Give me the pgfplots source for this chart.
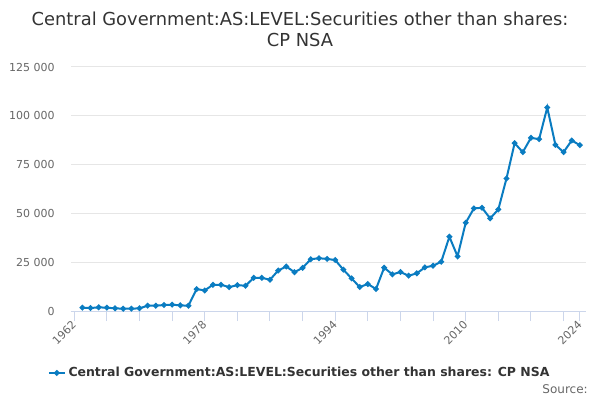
\documentclass[border=0pt]{standalone}
\usepackage{pgfplots}
\pgfplotsset{compat=1.18}
\usepackage{fontspec}
\setmainfont{DejaVu Sans}
\definecolor{linec}{HTML}{0A7CC1}
\definecolor{axc}{HTML}{CCD6EB}
\definecolor{gridc}{HTML}{E6E6E6}
\definecolor{txt}{HTML}{666666}
\definecolor{ttl}{HTML}{333333}
\begin{document}
\begin{tikzpicture}
\begin{axis}[
  scale only axis,
  width=386.25pt, height=183pt,
  xmin=1961.6, xmax=2024.75,
  ymin=0, ymax=125000,
  axis x line*=bottom,
  axis y line*=left,
  x axis line style={draw=axc, line width=0.75pt, -},
  y axis line style={draw=none},
  ymajorgrids,
  grid style={draw=gridc, line width=0.75pt},
  ytick={0,25000,50000,75000,100000,125000},
  scaled y ticks=false,
  /pgf/number format/fixed,
  /pgf/number format/precision=0,
  /pgf/number format/1000 sep={},
  /pgf/number format/assume math mode=true,
  yticklabel style={/pgf/number format/1000 sep={\ }, font=\fontsize{8.25}{9}\selectfont, text=txt, xshift=-1.2pt},
  xtick={1962,1978,1994,2010,2024},
  minor xtick={1966,1970,1974,1982,1986,1990,1998,2002,2006,2014,2018,2022},
  xticklabel style={font=\fontsize{8.25}{9}\selectfont, text=txt, rotate=45, anchor=east, inner sep=1pt, yshift=-1pt},
  tick align=outside,
  major tick length=7.5pt,
  minor tick length=7.5pt,
  xtick style={draw=axc, line width=0.75pt},
  minor x tick style={draw=axc, line width=0.75pt},
  ytick style={draw=none},
  clip=false,
  legend style={at={(rel axis cs:0.4447,-0.254)}, anchor=center, draw=none, fill=none,
    font=\bfseries\fontsize{9.35}{10}\selectfont, text=ttl, inner sep=0pt,
    /tikz/every even column/.append style={column sep=0pt}},
  legend image code/.code={
    \draw[#1, mark=none, line width=1.5pt] (0pt,0pt) -- (12pt,0pt);
    \draw[#1, only marks] plot coordinates {(6pt,0pt)};
  },
]
\addplot[color=linec, line width=1.5pt, mark=*, mark size=1.3pt, mark options={solid}] coordinates {
(1963,1700)(1964,1530)(1965,1870)(1966,1700)(1967,1360)(1968,1190)(1969,1190)(1970,1360)
(1971,2720)(1972,2720)(1973,3060)(1974,3230)(1975,2890)(1976,2720)(1977,11220)(1978,10540)
(1979,13430)(1980,13430)(1981,12240)(1982,13260)(1983,12920)(1984,17000)(1985,17000)(1986,15980)
(1987,20740)(1988,22780)(1989,19890)(1990,22100)(1991,26520)(1992,27030)(1993,26690)(1994,26100)
(1995,21150)(1996,16720)(1997,12280)(1998,13820)(1999,11260)(2000,22180)(2001,18770)(2002,19960)
(2003,18080)(2004,19280)(2005,22350)(2006,23200)(2007,25250)(2008,38040)(2009,27980)(2010,45210)
(2011,52540)(2012,52890)(2013,47430)(2014,52030)(2015,67900)(2016,85980)(2017,81380)(2018,88710)
(2019,88030)(2020,104240)(2021,85130)(2022,81380)(2023,87350)(2024,84960)
};
\addlegendentry{Central Government:AS:LEVEL:Securities other than shares: CP NSA}
\end{axis}
\begin{scope}[x=0.75pt,y=0.75pt]
\path[use as bounding box] (-71,-89) rectangle (529,311);
\node[text=ttl, font=\fontsize{13.4}{15}\selectfont] at (229,292) {Central Government:AS:LEVEL:Securities other than shares:};
\node[text=ttl, font=\fontsize{13.4}{15}\selectfont] at (229,271) {CP NSA};
\node[text=txt, font=\fontsize{9}{10}\selectfont, anchor=east, inner sep=0pt] at (517,-78) {Source:};
\end{scope}
\end{tikzpicture}
\end{document}
